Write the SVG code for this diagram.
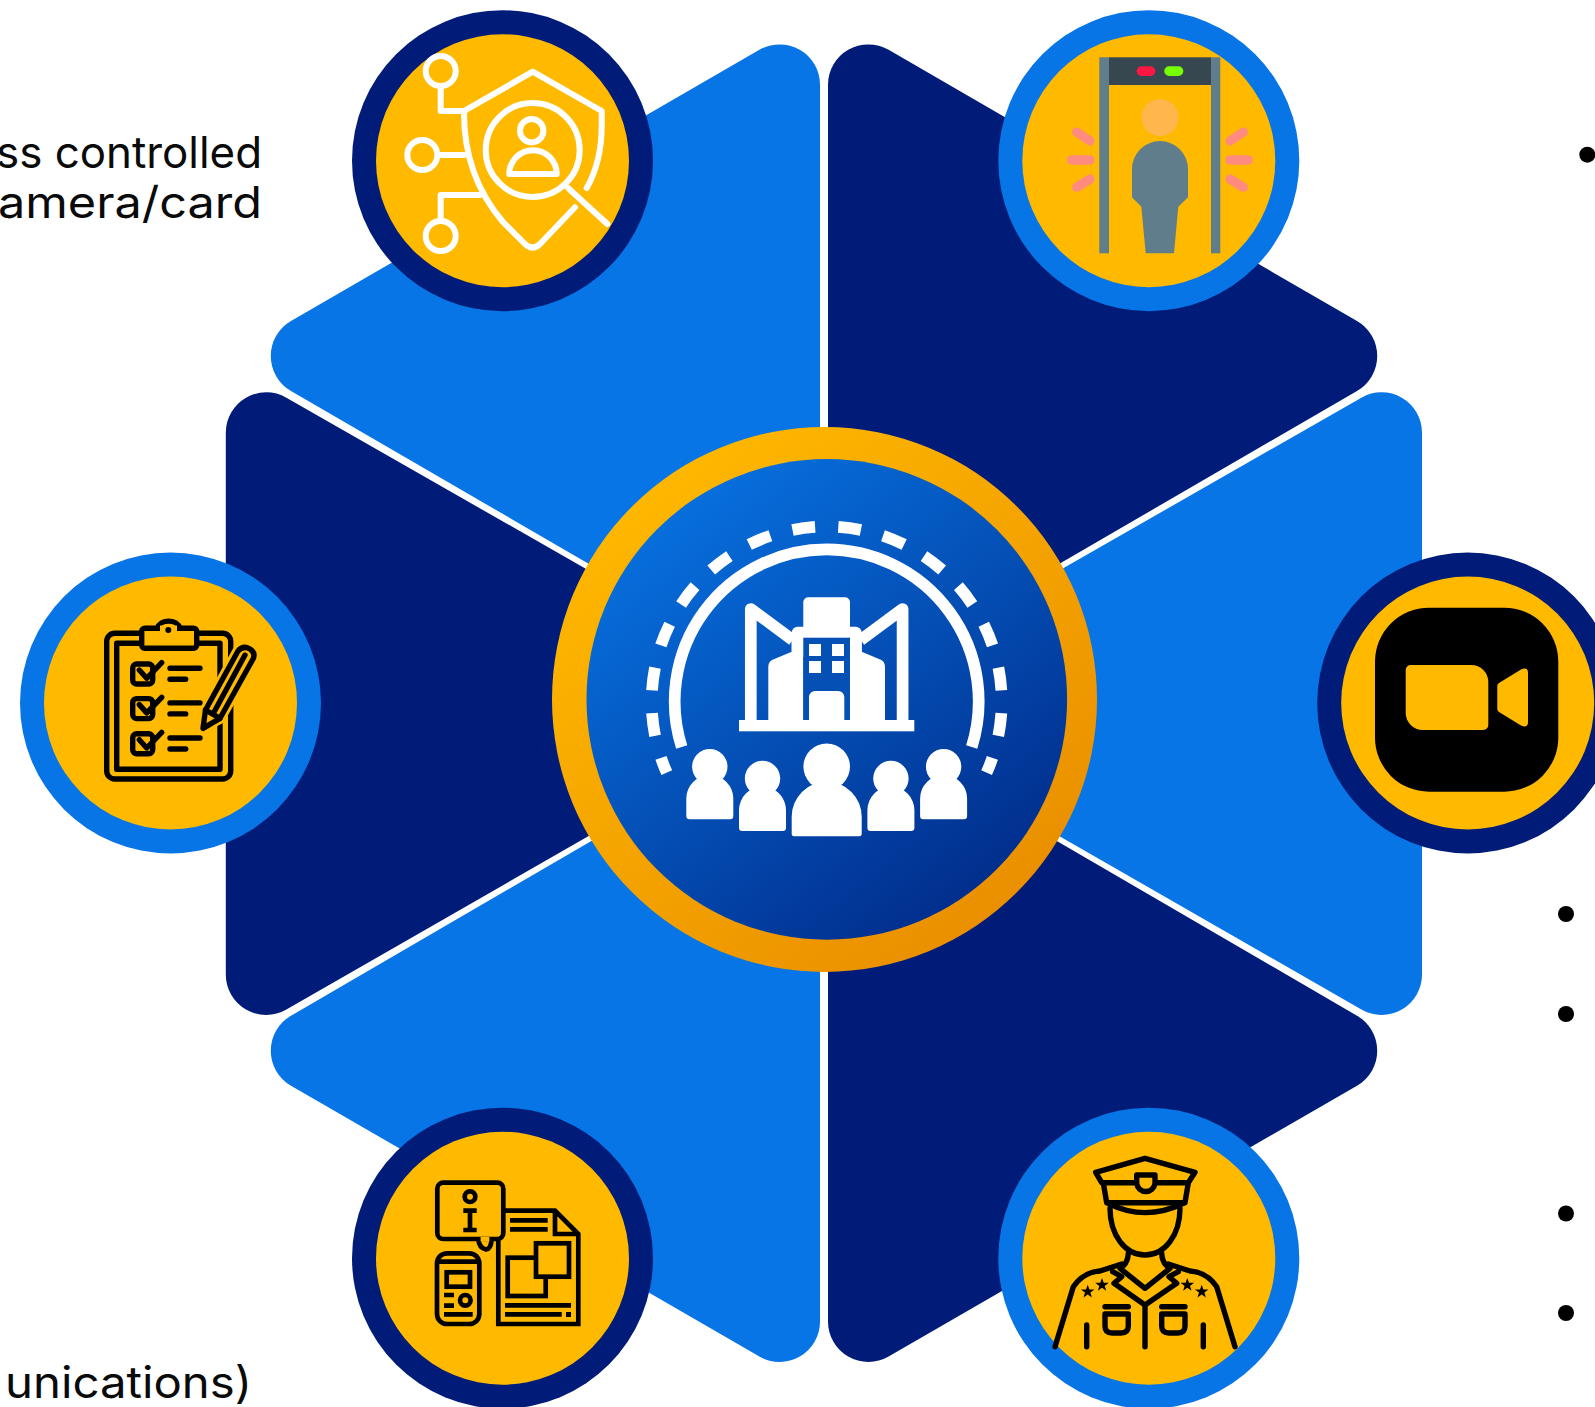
<svg xmlns="http://www.w3.org/2000/svg" xmlns:xlink="http://www.w3.org/1999/xlink" width="1595" height="1407" viewBox="0 0 1595 1407">
<style>
.lb{fill:#0775E6}.db{fill:#011C78}.au{fill:#FFBA00}
.wl{fill:none;stroke:#fff;stroke-width:6;stroke-linecap:round;stroke-linejoin:round}
.bl{fill:none;stroke:#000;stroke-width:5.4;stroke-linecap:round;stroke-linejoin:round}
.bm{fill:none;stroke:#000;stroke-width:4.7;stroke-linecap:butt;stroke-linejoin:miter}
.wh{fill:#fff}
.txt{font-family:"Inter","Liberation Sans",sans-serif;font-size:44px;fill:#0a0a0a}
</style>
<defs>
<linearGradient id="gRing" x1="0.15" y1="0.1" x2="0.85" y2="0.95"><stop offset="0" stop-color="#FFB800"/><stop offset="1" stop-color="#E98D00"/></linearGradient>
<linearGradient id="gCore" x1="0.15" y1="0.05" x2="0.85" y2="0.95"><stop offset="0" stop-color="#0773E2"/><stop offset="1" stop-color="#012A88"/></linearGradient>
<g id="pS"><circle cx="23.5" cy="-8.3" r="17.7"/><path d="M0,41V23.5A23.5,23.5 0 0 1 47,23.5V41a3.3,3.3 0 0 1-3.3,3.3H3.3A3.3,3.3 0 0 1 0,41Z"/></g>
<g id="pL"><circle cx="35" cy="-15" r="23.3"/><path d="M0,52V35A35,35 0 0 1 70,35V52a2.5,2.5 0 0 1-2.5,2.5H2.5A2.5,2.5 0 0 1 0,52Z"/></g>
<polygon id="star" points="0,-7 1.7,-2.2 6.8,-2.2 2.7,0.9 4.2,5.7 0,2.8 -4.2,5.7 -2.7,0.9 -6.8,-2.2 -1.7,-2.2"/>
<g id="chk"><rect x="132.7" y="664" width="20" height="20" rx="4"/><path d="M139.3,670L146.7,678.3L161.7,662.7"/><path d="M170,668.3H200M170,679.3H185.7"/></g>
</defs>
<rect width="1595" height="1407" fill="#fff"/>

<g id="connectors">
<path id="sector-tl" class="lb" d="M820,698V84.8A40.4,40.4 0 0 0 759.4,49.8L291,321A40.4,40.4 0 0 0 291,391Z"/>
<path id="sector-tr" class="db" d="M828,698V84.8A40.4,40.4 0 0 1 888.6,49.8L1357,321A40.4,40.4 0 0 1 1357,391Z"/>
<path id="sector-l" class="db" d="M820.5,703L286.4,397.7A40.4,40.4 0 0 0 225.8,432.7V974.5A40.4,40.4 0 0 0 286.4,1009.5Z"/>
<path id="sector-r" class="lb" d="M827.4,703L1361.4,397.7A40.4,40.4 0 0 1 1422,432.7V974.5A40.4,40.4 0 0 1 1361.4,1009.5Z"/>
<path id="sector-bl" class="lb" d="M820,708V1321.5A40.4,40.4 0 0 1 759.4,1356.5L291,1085.7A40.4,40.4 0 0 1 291,1015.7Z"/>
<path id="sector-br" class="db" d="M828,708V1321.5A40.4,40.4 0 0 0 888.6,1356.5L1357,1085.7A40.4,40.4 0 0 0 1357,1015.7Z"/>
</g>

<g id="labels">
<text class="txt" x="-4" y="168" textLength="266" lengthAdjust="spacingAndGlyphs">ss controlled</text>
<text class="txt" x="-2" y="218" textLength="264" lengthAdjust="spacingAndGlyphs">amera/card</text>
<text class="txt" x="5" y="1398" textLength="247" lengthAdjust="spacingAndGlyphs">unications)</text>
<circle cx="1587.3" cy="154.7" r="8"/>
<circle cx="1566" cy="914" r="8"/>
<circle cx="1566" cy="1014" r="8"/>
<circle cx="1566" cy="1213.5" r="8"/>
<circle cx="1566" cy="1313" r="8"/>
</g>

<g id="node-center">
<circle cx="824.5" cy="699.4" r="272.5" fill="url(#gRing)"/>
<circle cx="826.8" cy="699.4" r="240.3" fill="url(#gCore)"/>
<path d="M681.7,747A152,152 0 1 1 971.7,747" fill="none" stroke="#fff" stroke-width="11.7"/>
<path d="M838.3,526.9A175,175 0 0 1 986.6,772.7" pathLength="110.2" fill="none" stroke="#fff" stroke-width="11.7" stroke-dasharray="7.5 7.5"/>
<path d="M815.1,526.9A175,175 0 0 0 666.8,772.7" pathLength="110.2" fill="none" stroke="#fff" stroke-width="11.7" stroke-dasharray="7.5 7.5"/>
<rect class="wh" x="739" y="720" width="175.3" height="11.3"/>
<path d="M750.8,720V609L792.7,640M902.6,720V609L860.7,640" fill="none" stroke="#fff" stroke-width="11.7" stroke-linejoin="round"/>
<rect class="wh" x="803.3" y="597.3" width="46.7" height="40" rx="5"/>
<rect class="wh" x="791.7" y="626.7" width="70" height="30" rx="6"/>
<path class="wh" d="M768.3,720V667Q768.3,662 772,660L791.7,651.7V640H803.3V720ZM885,720V667Q885,662 881.4,660L861.7,651.7V640H850V720Z"/>
<rect x="803.3" y="637.7" width="46.7" height="82.3" fill="#0450B4"/>
<rect class="wh" x="809" y="644" width="12" height="12"/><rect class="wh" x="832" y="644" width="12" height="12"/>
<rect class="wh" x="809" y="661" width="12" height="12"/><rect class="wh" x="832" y="661" width="12" height="12"/>
<path class="wh" d="M809,720V697a6,6 0 0 1 6,-6H838.3a6,6 0 0 1 6,6V720Z"/>
<use xlink:href="#pS" href="#pS" x="686.3" y="775" fill="#fff"/>
<use xlink:href="#pS" href="#pS" x="739" y="786.7" fill="#fff"/>
<use xlink:href="#pL" href="#pL" x="791.7" y="781.7" fill="#fff"/>
<use xlink:href="#pS" href="#pS" x="867.4" y="786.7" fill="#fff"/>
<use xlink:href="#pS" href="#pS" x="920.1" y="775" fill="#fff"/>
</g>

<g id="node-analytics">
<circle class="db" cx="502.5" cy="160.7" r="150.5"/>
<circle class="au" cx="502.5" cy="160.7" r="126.5"/>
<g class="wl">
<circle cx="440.7" cy="71" r="15"/><circle cx="422.3" cy="155" r="15"/><circle cx="440.7" cy="236" r="15"/>
<path d="M440.7,88V111H465M438,155H464M440.7,218V195H480"/>
<path d="M464,111L532.7,71.7L601.7,111V125C601.7,150 597,170 586.7,188"/>
<path d="M464,113C464,160 480,195 503,222L525,244Q532.7,251 540,244L575,207.3"/>
<circle cx="532.7" cy="150" r="47"/>
<path d="M568.3,188.3L607.3,224"/>
<circle cx="531.7" cy="130.7" r="11.7"/>
<path d="M509.3,174a23.7,23.7 0 0 1 47.4,0Z"/>
</g>
</g>

<g id="node-detector">
<circle class="lb" cx="1148.8" cy="160.7" r="150.5"/>
<circle class="au" cx="1148.8" cy="160.7" r="126.5"/>
<rect x="1109" y="57.3" width="102" height="27.7" fill="#37474F"/>
<rect x="1099.3" y="57.3" width="9.7" height="196" fill="#607D8B"/>
<rect x="1211" y="57.3" width="9.3" height="196" fill="#607D8B"/>
<rect x="1136.7" y="66.3" width="18.6" height="9.7" rx="4.8" fill="#FF1744"/>
<rect x="1164.3" y="66.3" width="19" height="9.7" rx="4.8" fill="#76FF03"/>
<circle cx="1160" cy="117.7" r="18.5" fill="#FFB74D"/>
<path fill="#607D8B" d="M1132,197.3V169A28,28 0 0 1 1188,169V197.3L1178.3,206.7L1174,253.3H1145.7L1141.3,206.7Z"/>
<path fill="none" stroke="#FF8A80" stroke-width="9.3" stroke-linecap="round" d="M1076.7,132L1090,141M1071.7,160H1090M1076.7,187.3L1090,179M1230,141L1243.3,132M1230,160H1248.3M1230,179L1243.3,187.3"/>
</g>

<g id="node-checklist">
<circle class="lb" cx="170.5" cy="703" r="150.5"/>
<circle class="au" cx="170.5" cy="703" r="126.5"/>
<g class="bl">
<rect x="106.7" y="633.3" width="124" height="145.7" rx="8"/>
<rect x="116.7" y="643.3" width="103.3" height="126"/>
<rect x="141.7" y="628.3" width="55" height="20" rx="3" fill="#FFBA00"/>
<path d="M157.3,628.3A11.7,9.5 0 0 1 180,628.3" fill="#FFBA00"/>
<use xlink:href="#chk" href="#chk"/>
<use xlink:href="#chk" href="#chk" y="34.6"/>
<use xlink:href="#chk" href="#chk" y="69.7"/>
<path d="M204,727L205.5,710L238,651Q243,645 250,649Q256,653 253,659L220,718.3Z" fill="#FFBA00" stroke="#FFBA00" stroke-width="11"/>
<path d="M203,728.3L205.5,710L238,651Q243,645 250,649Q256,653 253,659L220,718.3Z" fill="#FFBA00"/>
<path d="M213,714L245,655M205.5,710L220,718.3"/>
</g>
<rect class="au" x="160" y="625.5" width="17" height="5.5"/>
<circle cx="168.3" cy="630" r="3"/>
</g>

<g id="node-camera">
<circle class="db" cx="1467.7" cy="703" r="150.5"/>
<circle class="au" cx="1467.7" cy="703" r="126.5"/>
<rect x="1375" y="607.7" width="183.3" height="184" rx="54"/>
<path class="au" d="M1410.7,665H1471.3A17,17 0 0 1 1488.3,682V725A5,5 0 0 1 1483.3,730H1422.7A17,17 0 0 1 1405.7,713V670A5,5 0 0 1 1410.7,665Z"/>
<path class="au" d="M1497.3,686Q1497.3,684 1499,683L1521,669.5Q1528,666.5 1528,673V722Q1528,728.5 1521,725.5L1499,712Q1497.3,711 1497.3,709Z"/>
</g>

<g id="node-info">
<circle class="db" cx="502.5" cy="1258.2" r="150.5"/>
<circle class="au" cx="502.5" cy="1258.2" r="126.5"/>
<g class="bm">
<path d="M505,1210.7H555L578.3,1234V1324H498.3V1240M555,1210.7V1234H578.3"/>
<path d="M491.7,1239Q491,1249 486,1249.5Q479,1248 478.3,1239" fill="#FFBA00"/>
<rect x="437.3" y="1182.7" width="66" height="56.3" rx="6" fill="none"/>
<rect class="au" x="480.6" y="1237" width="8.8" height="4.5" stroke="none"/>
<circle cx="470" cy="1196.7" r="5.3"/>
<path d="M463.3,1210.7H476.7M470,1210.7V1230M463.3,1230H476.7"/>
<path d="M510,1220.3H547.7M510,1229.3H547.7"/>
<rect x="507.7" y="1257.7" width="38" height="38.3"/>
<rect x="536" y="1243.3" width="33" height="33.4" fill="#FFBA00"/>
<path d="M505,1305.3H571M505,1314.3H561.7"/>
<rect x="437" y="1253.3" width="42.3" height="70.7" rx="10"/>
<path d="M437,1261.7H479.3"/>
<rect x="446.7" y="1272.3" width="23.3" height="14.4"/>
<path d="M444,1295H454M444,1305.7H454M444,1314.3H472.7"/>
<circle cx="465.3" cy="1300.3" r="5.3"/>
</g>
<rect x="566" y="1312" width="5" height="5"/>
</g>

<g id="node-officer">
<circle class="lb" cx="1148.8" cy="1258.2" r="150.5"/>
<circle class="au" cx="1148.8" cy="1258.2" r="126.5"/>
<g class="bl">
<path d="M1145,1158.3L1195,1172.3L1188.3,1182.7H1101.7L1095.7,1172.3Z"/>
<path d="M1103.3,1182.7L1106.7,1202.7H1185L1188.3,1182.7"/>
<path d="M1136.7,1175H1155V1183.3A9.2,9.2 0 0 1 1136.7,1183.3Z" fill="#FFBA00"/>
<path d="M1108.3,1203.3Q1145,1222 1183.3,1203.3"/>
<path d="M1110,1208.3C1110,1235 1125,1255 1145,1255C1165,1255 1180,1235 1180,1208.3"/>
<path d="M1128.3,1253.3Q1128,1261 1123.3,1266M1161.7,1253.3Q1162,1261 1166.7,1266"/>
<path d="M1120,1268.3L1145,1288.3L1170,1268.3"/>
<path d="M1112.7,1271.7L1121.7,1276.7L1114,1283.3L1145,1305L1176.7,1283.3L1169,1276.7L1178.3,1271.7"/>
<path d="M1121.7,1264L1100,1271C1085,1272 1078,1280 1073.3,1286.7L1055,1346.7"/>
<path d="M1168.3,1264L1190,1271C1205,1272 1212,1280 1216.7,1286.7L1235,1346.7"/>
<path d="M1145,1305V1346.7M1086.7,1325V1346.7M1203.3,1325V1346.7"/>
<path d="M1105,1306.7H1128.3M1105,1314H1128.3M1105,1314V1326Q1105,1333 1112,1333H1121Q1128.3,1333 1128.3,1326V1314"/>
<path d="M1161.7,1306.7H1185M1161.7,1314H1185M1161.7,1314V1326Q1161.7,1333 1169,1333H1178Q1185,1333 1185,1326V1314"/>
</g>
<use xlink:href="#star" href="#star" x="1087.7" y="1291.7"/>
<use xlink:href="#star" href="#star" x="1102" y="1285"/>
<use xlink:href="#star" href="#star" x="1187.3" y="1285"/>
<use xlink:href="#star" href="#star" x="1201.7" y="1291.7"/>
</g>
</svg>
